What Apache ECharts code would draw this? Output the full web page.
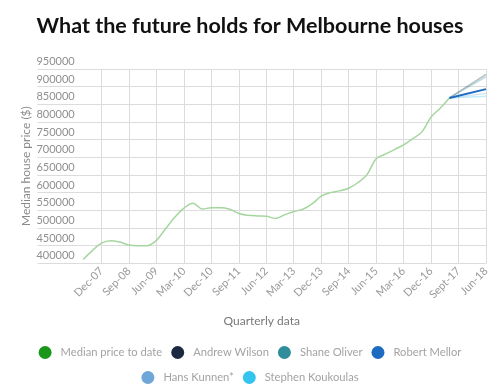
<!DOCTYPE html>
<html>
<head>
<meta charset="utf-8">
<script src="https://cdn.jsdelivr.net/npm/echarts@6/dist/echarts.min.js"></script>
<style>html,body{margin:0;padding:0;background:#fff}#c{width:500px;height:389px}</style>
</head>
<body>
<div id="c"></div>
<script>
// Quarter categories (Mar-06 .. Jun-18)
var categories = [
  'Mar-06','Jun-06','Sep-06','Dec-06','Mar-07','Jun-07','Sep-07','Dec-07',
  'Mar-08','Jun-08','Sep-08','Dec-08','Mar-09','Jun-09','Sep-09','Dec-09',
  'Mar-10','Jun-10','Sep-10','Dec-10','Mar-11','Jun-11','Sep-11','Dec-11',
  'Mar-12','Jun-12','Sep-12','Dec-12','Mar-13','Jun-13','Sep-13','Dec-13',
  'Mar-14','Jun-14','Sep-14','Dec-14','Mar-15','Jun-15','Sep-15','Dec-15',
  'Mar-16','Jun-16','Sep-16','Dec-16','Mar-17','Jun-17','Sept-17','Dec-17',
  'Mar-18','Jun-18'
];
// Labelled ticks
var tickLabels = ['Dec-07','Sep-08','Jun-09','Mar-10','Dec-10','Sep-11','Jun-12','Mar-13',
  'Dec-13','Sep-14','Jun-15','Mar-16','Dec-16','Sept-17','Jun-18'];

// Median price to date, quarterly from Jun-07 to Jun-17
var medianStart = 'Jun-07';
var medianValues = [
  411000, 436000, 457000, 464000, 460000, 452000, 450000, 450000,
  465000, 498000, 530000, 556000, 570000, 554000, 557000, 557000,
  553000, 541000, 536000, 534000, 533000, 527000, 537000, 546500,
  553000, 568000, 590000, 600000, 605000, 612500, 628000, 651000,
  696000, 709000, 722000, 735000, 753000, 772000, 814000, 839000,
  868000
];

// Forecasts: from Jun-17 to Jun-18
var forecastFrom = 'Jun-17';
var forecastTo = 'Jun-18';
var forecastStartValue = 868000;
var forecastNames = ['Andrew Wilson','Shane Oliver','Robert Mellor','Hans Kunnen*','Stephen Koukoulas'];
var forecastEndValues = [935000, 928000, 893000, 881000, 873000];

var yTicks = { min: 400000, max: 950000, step: 50000 };

var colors = {
  median: '#1a961a', medianLine: '#a6d69f',
  'Andrew Wilson': '#1b2a41', 'Shane Oliver': '#2f8e99', 'Robert Mellor': '#1d6cc2',
  'Hans Kunnen*': '#6ea7d7', 'Stephen Koukoulas': '#35c4ee'
};

function isTick(i) { return tickLabels.indexOf(categories[i]) >= 0; }

var medianData = categories.map(function () { return null; });
var s0 = categories.indexOf(medianStart);
medianValues.forEach(function (v, k) { medianData[s0 + k] = v; });

var series = [{
  name: 'Median price to date', type: 'line', data: medianData, smooth: 0.35,
  showSymbol: false, symbol: 'circle',
  itemStyle: { color: colors.median },
  lineStyle: { color: colors.medianLine, width: 1.5 },
  z: 2
}];
var fi = categories.indexOf(forecastFrom), ti = categories.indexOf(forecastTo);
forecastNames.forEach(function (n, k) {
  var d = categories.map(function () { return null; });
  d[fi] = forecastStartValue; d[ti] = forecastEndValues[k];
  var bold = n === 'Robert Mellor';
  series.push({
    name: n, type: 'line', data: d, connectNulls: true, showSymbol: false, symbol: 'circle',
    itemStyle: { color: colors[n] },
    lineStyle: { color: colors[n], width: bold ? 2 : 1.5, opacity: bold ? 1 : 0.3 },
    z: bold ? 5 : 3
  });
});

var legendText = { color: '#a3a3a3', fontSize: 11.2, fontFamily: 'Lato', padding: [0, 0, 0, 4] };
var chart = echarts.init(document.getElementById('c'), null, { renderer: 'canvas' });
chart.setOption({
  animation: false,
  textStyle: { fontFamily: 'Lato' },
  title: {
    text: 'What the future holds for Melbourne houses', left: 'center', top: 10,
    textStyle: { fontFamily: 'Lato', fontWeight: 'bold', fontSize: 21.5, color: '#111' }
  },
  legend: [{
    data: ['Median price to date','Andrew Wilson','Shane Oliver','Robert Mellor'],
    left: 'center', top: 341, icon: 'circle', itemWidth: 13, itemHeight: 13, itemGap: 9,
    textStyle: legendText
  }, {
    data: ['Hans Kunnen*','Stephen Koukoulas'],
    left: 'center', top: 366, icon: 'circle', itemWidth: 13, itemHeight: 13, itemGap: 9,
    textStyle: legendText
  }],
  grid: { left: 37.4, right: 14, top: 69, bottom: 125.7, containLabel: false },
  xAxis: {
    type: 'category', data: categories, boundaryGap: false,
    name: 'Quarterly data', nameLocation: 'middle', nameGap: 52,
    nameTextStyle: { color: '#777', fontSize: 12, fontFamily: 'Lato' },
    axisLine: { show: false }, axisTick: { show: false },
    axisLabel: { interval: function (i) { return isTick(i); }, rotate: 45, color: '#9a9a9a', fontSize: 11, margin: 6, fontFamily: 'Lato' },
    splitLine: { show: true, interval: function (i) { return isTick(i); }, lineStyle: { color: '#dcdcdc', width: 1 } }
  },
  yAxis: {
    type: 'value', min: yTicks.min, max: yTicks.max, interval: yTicks.step,
    name: 'Median house price ($)', nameLocation: 'middle', nameGap: 5, nameMoveOverlap: false,
    nameTextStyle: { color: '#8a8a8a', fontSize: 12, fontFamily: 'Lato' },
    axisLine: { show: false }, axisTick: { show: false },
    axisLabel: { inside: true, margin: -1, color: '#8f8f8f', fontSize: 11, verticalAlign: 'bottom', padding: [0, 0, 2, 0], fontFamily: 'Lato',
      formatter: function (v) { return String(v); } },
    splitLine: { lineStyle: { color: '#dcdcdc', width: 1 } }
  },
  series: series
});
</script>
</body>
</html>
